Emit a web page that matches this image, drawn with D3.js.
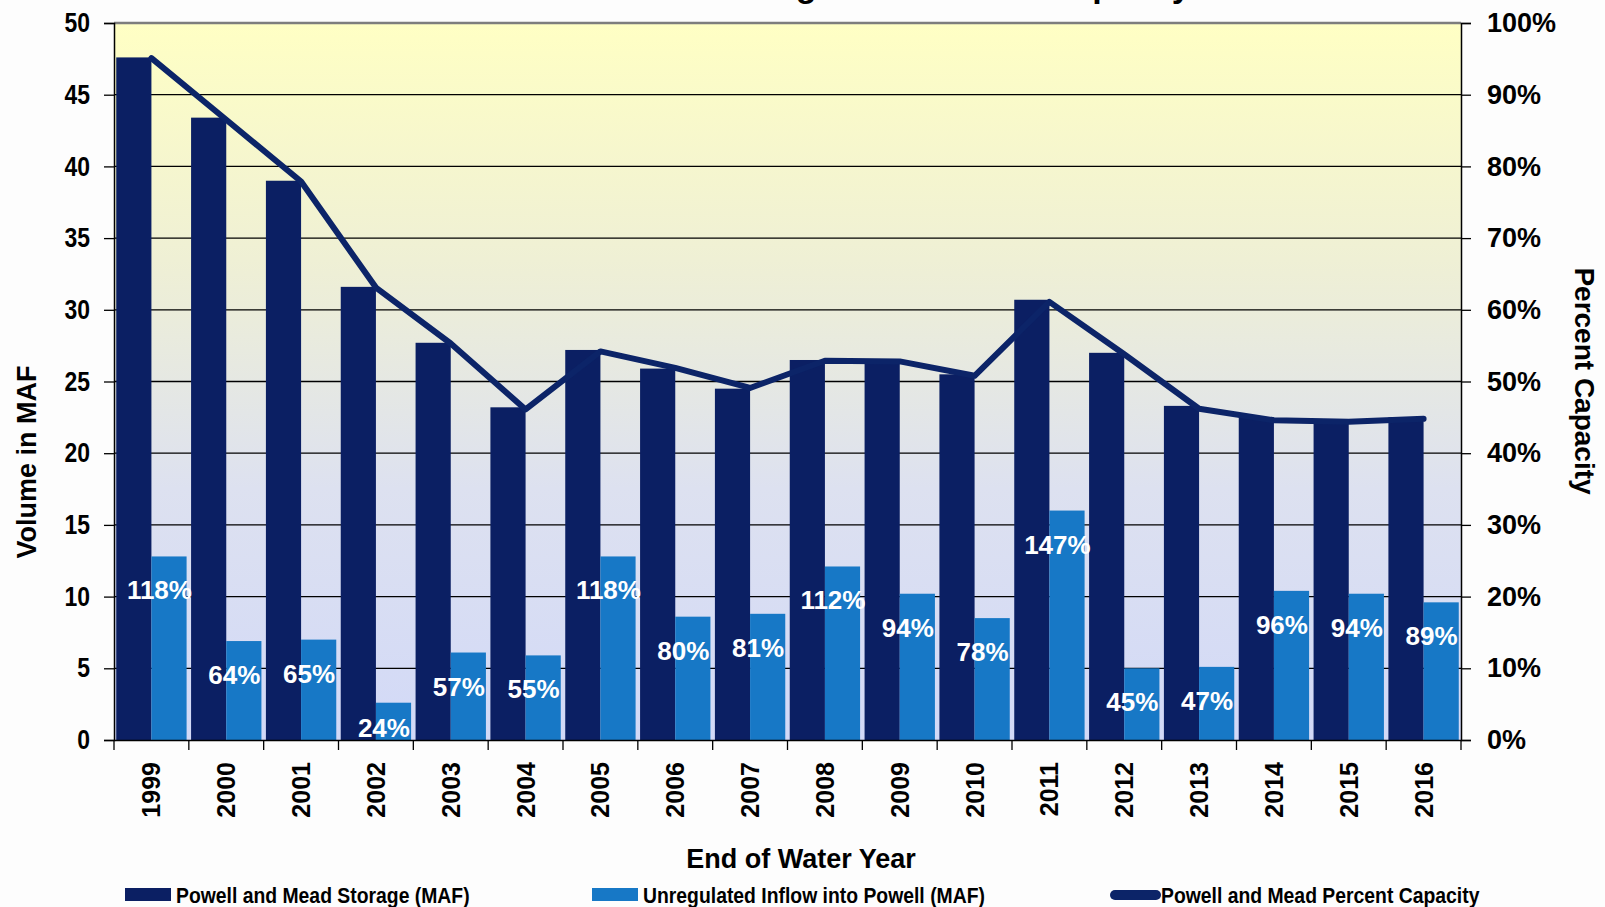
<!DOCTYPE html>
<html>
<head>
<meta charset="utf-8">
<script src="https://cdn.jsdelivr.net/npm/d3@7"></script>
<style>
  html, body { margin: 0; padding: 0; background: #fdfdfd; }
  svg { display: block; font-family: "Liberation Sans", Arial, sans-serif; font-weight: bold; }
</style>
</head>
<body>
<div id="app"></div>
<script>
(function (d3) {

  'use strict'

  const years = ['1999', '2000', '2001', '2002', '2003', '2004', '2005', '2006', '2007',
    '2008', '2009', '2010', '2011', '2012', '2013', '2014', '2015', '2016']
  // Powell and Mead storage, MAF
  const storage = [47.6, 43.4, 39.0, 31.6, 27.7, 23.2, 27.2, 25.9, 24.5,
    26.5, 26.5, 25.5, 30.7, 27.0, 23.3, 22.5, 22.3, 22.5]
  // unregulated inflow into Powell, MAF
  const inflow = [12.8, 6.9, 7.0, 2.6, 6.1, 5.9, 12.8, 8.6, 8.8,
    12.1, 10.2, 8.5, 16.0, 5.0, 5.1, 10.4, 10.2, 9.6]
  // inflow as percent of average (data labels)
  const inflowPct = [118, 64, 65, 24, 57, 55, 118, 80, 81, 112, 94, 78, 147, 45, 47, 96, 94, 89]
  // combined percent capacity
  const capacity = [95.1, 86.5, 77.9, 63.1, 55.3, 46.1, 54.2, 51.9, 49.1,
    52.9, 52.8, 50.8, 61.1, 53.8, 46.2, 44.6, 44.4, 44.8]
  const leftTicks = [0, 5, 10, 15, 20, 25, 30, 35, 40, 45, 50]
  const rightTicks = [0, 10, 20, 30, 40, 50, 60, 70, 80, 90, 100]
  const seriesNames = ['Powell and Mead Storage (MAF)', 'Unregulated Inflow into Powell  (MAF)', 'Powell and Mead Percent Capacity']

  const W = 1605
  const H = 907
  const m = {left: 114, right: 1461, top: 23, bottom: 740}
  const dark = '#0b1f63'
  const light = '#1778c6'
  const lineCol = '#0c2468'

  const svg = d3.select('#app').append('svg')
    .attr('width', W)
    .attr('height', H)

  const defs = svg.append('defs')
  const grad = defs.append('linearGradient')
    .attr('id', 'bg')
    .attr('x1', 0).attr('y1', 0).attr('x2', 0).attr('y2', 1)
  grad.append('stop').attr('offset', '0%').attr('stop-color', '#ffffc4')
  grad.append('stop').attr('offset', '35%').attr('stop-color', '#eeefd6')
  grad.append('stop').attr('offset', '65%').attr('stop-color', '#dde1f0')
  grad.append('stop').attr('offset', '100%').attr('stop-color', '#d2d9f7')

  const x = d3.scaleBand()
    .domain(years)
    .range([m.left, m.right])
    .paddingInner(0.06)
    .paddingOuter(0.03)
  const xEdge = d3.scaleBand().domain(years).range([m.left, m.right])
  const x1 = d3.scaleBand().domain(['s', 'i']).range([0, x.bandwidth()])

  const yL = d3.scaleLinear().domain([0, 50]).range([m.bottom, m.top])
  const yR = d3.scaleLinear().domain([0, 100]).range([m.bottom, m.top])

  // title, mostly cut off at the top edge as in the source image
  svg.append('text')
    .attr('x', 808)
    .attr('y', -3)
    .attr('text-anchor', 'middle')
    .style('font-size', '34px')
    .attr('fill', '#000')
    .text('Powell and Mead Storage and Percent Capacity')

  svg.append('rect')
    .attr('x', m.left)
    .attr('y', m.top)
    .attr('width', m.right - m.left)
    .attr('height', m.bottom - m.top)
    .attr('fill', 'url(#bg)')

  // gridlines
  svg.append('g')
    .selectAll('line')
    .data(leftTicks.slice(1, -1))
    .enter()
    .append('line')
    .attr('x1', m.left)
    .attr('x2', m.right)
    .attr('y1', d => yL(d))
    .attr('y2', d => yL(d))
    .attr('stroke', '#000')
    .attr('stroke-width', 1.3)

  svg.append('line')
    .attr('x1', m.left).attr('x2', m.right)
    .attr('y1', m.top).attr('y2', m.top)
    .attr('stroke', '#7d7d7d')
    .attr('stroke-width', 2.5)

  // bars
  const groups = svg.append('g')
    .selectAll('g')
    .data(years)
    .enter()
    .append('g')
    .attr('transform', d => 'translate(' + x(d) + ',0)')

  groups.append('rect')
    .attr('x', x1('s'))
    .attr('width', x1.bandwidth())
    .attr('y', (d, i) => yL(storage[i]))
    .attr('height', (d, i) => yL(0) - yL(storage[i]))
    .attr('fill', dark)

  groups.append('rect')
    .attr('x', x1('i'))
    .attr('width', x1.bandwidth())
    .attr('y', (d, i) => yL(inflow[i]))
    .attr('height', (d, i) => yL(0) - yL(inflow[i]))
    .attr('fill', light)

  // percent capacity line
  const line = d3.line()
    .x((d, i) => xEdge(years[i]) + xEdge.bandwidth() / 2)
    .y(d => yR(d))

  svg.append('path')
    .datum(capacity)
    .attr('d', line)
    .attr('fill', 'none')
    .attr('stroke', lineCol)
    .attr('stroke-width', 6)
    .attr('stroke-linejoin', 'round')
    .attr('stroke-linecap', 'round')

  // inflow percent labels
  svg.append('g')
    .selectAll('text')
    .data(inflowPct)
    .enter()
    .append('text')
    .attr('x', (d, i) => xEdge(years[i]) + xEdge.bandwidth() / 2 + 8)
    .attr('y', (d, i) => Math.min(yL(inflow[i]) + 43, m.bottom - 3))
    .attr('text-anchor', 'middle')
    .attr('fill', '#fff')
    .style('font-size', '26px')
    .text(d => d + '%')

  // axes
  const axisL = svg.append('g')
    .attr('transform', 'translate(' + m.left + ',0)')
    .call(d3.axisLeft(yL).tickValues(leftTicks).tickSize(10).tickPadding(14))
  const axisR = svg.append('g')
    .attr('transform', 'translate(' + m.right + ',0)')
    .call(d3.axisRight(yR).tickValues(rightTicks).tickSize(10).tickPadding(16).tickFormat(d => d + '%'))
  const axisB = svg.append('g')
    .attr('transform', 'translate(0,' + m.bottom + ')')
    .call(d3.axisBottom(xEdge).tickSize(0).tickPadding(0))

  ;[axisL, axisR].forEach(a => {
    a.select('.domain').attr('stroke', '#000').attr('stroke-width', 1.5)
    a.selectAll('.tick line').attr('stroke', '#000').attr('stroke-width', 1.3)
    a.selectAll('text')
      .attr('fill', '#000')
      .style('font-family', '"Liberation Sans", Arial, sans-serif')
      .style('font-weight', 'bold')
      .style('font-size', '27px')
  })
  // the left tick numbers are set a bit narrower in the source
  axisL.selectAll('.tick text')
    .attr('transform', 'scale(0.85,1)')
    .attr('x', -24 / 0.85)

  axisB.select('.domain').attr('stroke', '#000').attr('stroke-width', 1.5)
  axisB.selectAll('.tick text')
    .attr('fill', '#000')
    .style('font-family', '"Liberation Sans", Arial, sans-serif')
    .style('font-weight', 'bold')
    .style('font-size', '25px')
    .attr('text-anchor', 'end')
    .attr('transform', 'translate(0,22) rotate(-90)')
    .attr('x', 0)
    .attr('y', 0)
    .attr('dy', '0.36em')

  // boundary ticks below the x axis
  svg.append('g')
    .selectAll('line')
    .data(years.concat(['end']))
    .enter()
    .append('line')
    .attr('x1', (d, i) => m.left + i * xEdge.step())
    .attr('x2', (d, i) => m.left + i * xEdge.step())
    .attr('y1', m.bottom)
    .attr('y2', m.bottom + 10)
    .attr('stroke', '#000')
    .attr('stroke-width', 1.3)

  // axis titles
  svg.append('text')
    .attr('transform', 'translate(36,' + 462 + ') rotate(-90)')
    .attr('text-anchor', 'middle')
    .style('font-size', '27px')
    .text('Volume in MAF')

  svg.append('text')
    .attr('transform', 'translate(1575,' + 381 + ') rotate(90)')
    .attr('text-anchor', 'middle')
    .style('font-size', '28px')
    .text('Percent Capacity')

  svg.append('text')
    .attr('x', 801)
    .attr('y', 868)
    .attr('text-anchor', 'middle')
    .style('font-size', '27px')
    .text('End of Water Year')

  // legend
  const legX = [125, 592, 1110]
  const leg = svg.append('g')
    .selectAll('g')
    .data(seriesNames)
    .enter()
    .append('g')
    .attr('transform', (d, i) => 'translate(' + legX[i] + ',0)')

  leg.each(function (d, i) {
    const g = d3.select(this)
    if (i < 2) {
      g.append('rect')
        .attr('x', 0).attr('y', 888)
        .attr('width', 46).attr('height', 13)
        .attr('fill', i === 0 ? dark : light)
    } else {
      g.append('line')
        .attr('x1', 5).attr('x2', 46)
        .attr('y1', 895).attr('y2', 895)
        .attr('stroke', lineCol)
        .attr('stroke-width', 10)
        .attr('stroke-linecap', 'round')
    }
    g.append('text')
      .attr('transform', 'translate(51,903) scale(0.88,1)')
      .style('font-size', '22px')
      .text(d)
  })

}(d3))
</script>
</body>
</html>
